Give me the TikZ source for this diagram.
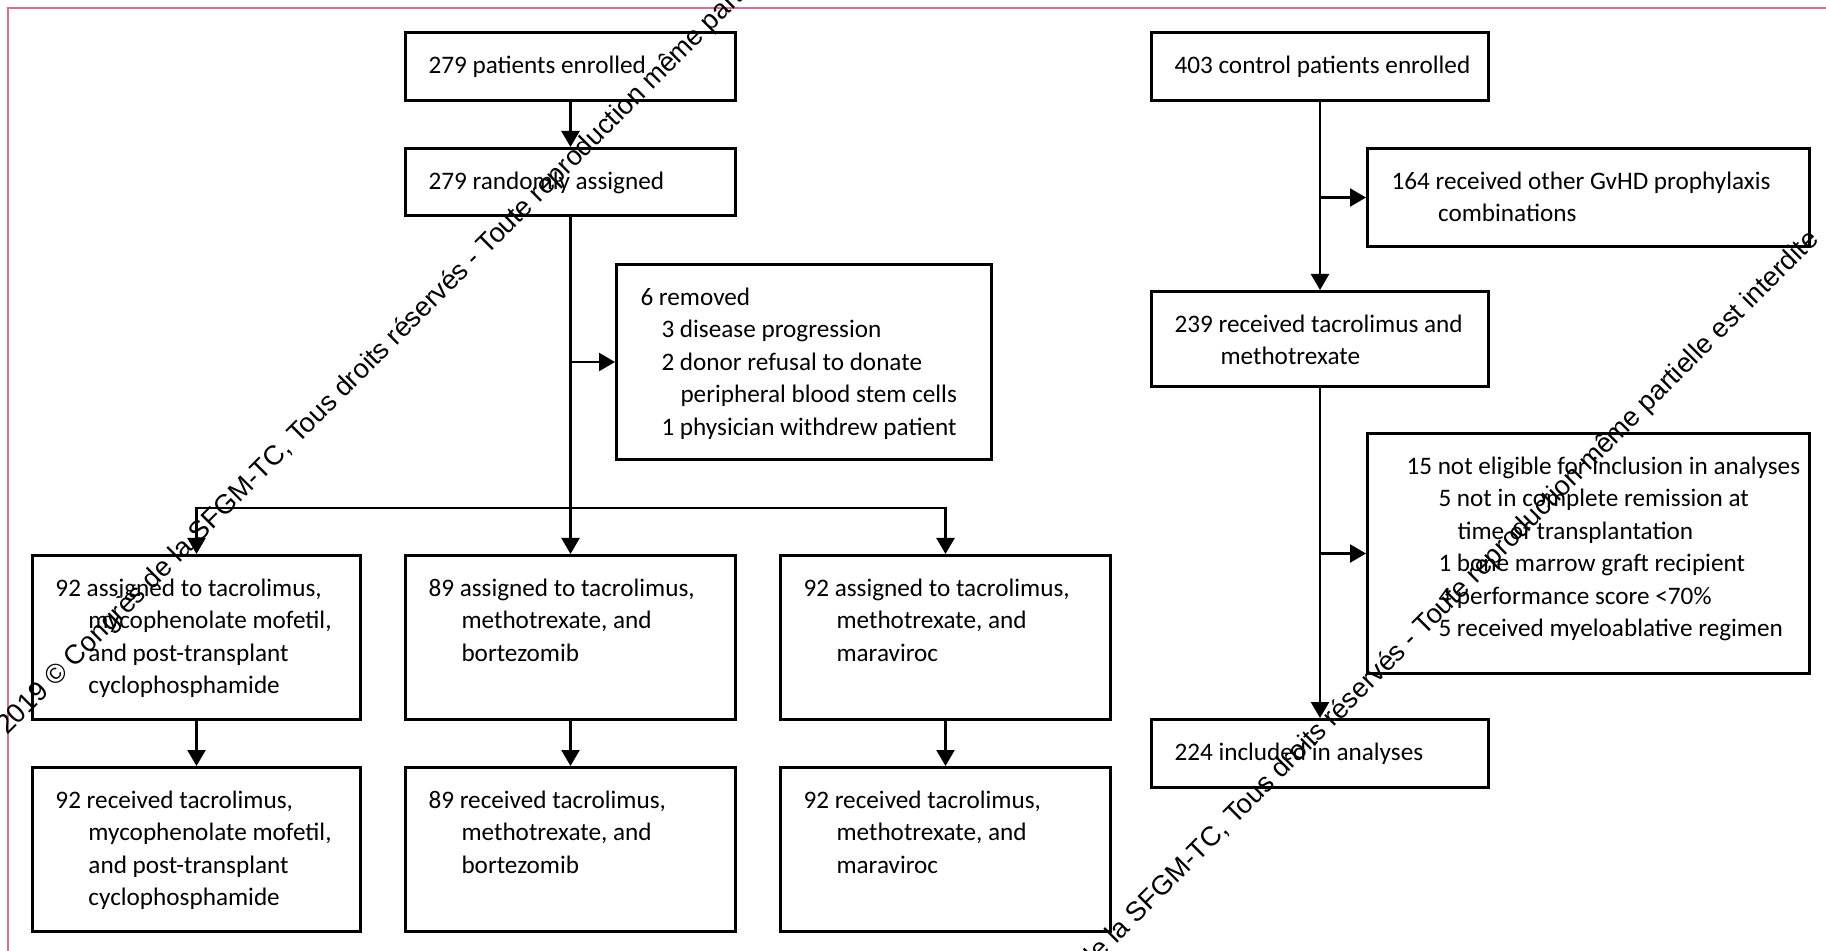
\documentclass[tikz,border=0pt]{standalone}
\usepackage{fontspec}
\setmainfont{Carlito}
\newfontfamily\wmfont{Liberation Sans}
\usetikzlibrary{arrows.meta}
\definecolor{framepink}{RGB}{218,112,142}
% box text: [inset]{width}{height}{lines}
\newcommand{\flowtext}[4][11.5pt]{\parbox[t][#3][t]{#2}{\raggedright\leftskip=#1\rule{0pt}{20.5pt}#4}}

\begin{document}
\begin{tikzpicture}[x=0.5pt,y=0.5pt,yscale=-1,
  flowbox/.style={draw, line width=1.5pt, anchor=north west, inner sep=0pt, font=\fontsize{12.6}{16.2}\selectfont},
  flowline/.style={line width=1.2pt, -{Triangle[width=9pt,length=8pt]}},
  wmark/.style={rotate=45, anchor=base west, inner sep=0pt, font=\wmfont\fontsize{13.6}{16}\selectfont}]
\useasboundingbox (0,0) rectangle (1826,951);

%Frame
\draw [framepink, line width=0.7pt] (8,951) -- (8,8) -- (1826,8);

% Trial arm
\node[flowbox] (enrolled) at (404,31) {\flowtext{165pt}{34pt}{279 patients enrolled}};
\node[flowbox] (randomised) at (404,147) {\flowtext{165pt}{33.5pt}{279 randomly assigned}};
\node[flowbox] (removed) at (615,263) {\flowtext[12pt]{187.5pt}{97.5pt}{6 removed\\
\hspace*{10.5pt}3 disease progression\\
\hspace*{10.5pt}2 donor refusal to donate\\
\hspace*{20pt}peripheral blood stem cells\\
\hspace*{10.5pt}1 physician withdrew patient}};

% Assigned
\node[flowbox] (armA) at (31,554) {\flowtext{164pt}{82pt}{92 assigned to tacrolimus,\\
\hspace*{16.5pt}mycophenolate mofetil,\\
\hspace*{16.5pt}and post-transplant\\
\hspace*{16.5pt}cyclophosphamide}};
\node[flowbox] (armB) at (404,554) {\flowtext{165pt}{82pt}{89 assigned to tacrolimus,\\
\hspace*{16.5pt}methotrexate, and\\
\hspace*{16.5pt}bortezomib}};
\node[flowbox] (armC) at (779,554) {\flowtext{165pt}{82pt}{92 assigned to tacrolimus,\\
\hspace*{16.5pt}methotrexate, and\\
\hspace*{16.5pt}maraviroc}};

% Received
\node[flowbox] (recvA) at (31,766) {\flowtext{164pt}{82pt}{92 received tacrolimus,\\
\hspace*{16.5pt}mycophenolate mofetil,\\
\hspace*{16.5pt}and post-transplant\\
\hspace*{16.5pt}cyclophosphamide}};
\node[flowbox] (recvB) at (404,766) {\flowtext{165pt}{82pt}{89 received tacrolimus,\\
\hspace*{16.5pt}methotrexate, and\\
\hspace*{16.5pt}bortezomib}};
\node[flowbox] (recvC) at (779,766) {\flowtext{165pt}{82pt}{92 received tacrolimus,\\
\hspace*{16.5pt}methotrexate, and\\
\hspace*{16.5pt}maraviroc}};

% Control cohort
\node[flowbox] (control) at (1150,31) {\flowtext{168.5pt}{34pt}{403 control patients enrolled}};
\node[flowbox] (otherproph) at (1366,147) {\flowtext[12pt]{221pt}{49pt}{164 received other GvHD prophylaxis\\
\hspace*{23.3pt}combinations}};
\node[flowbox] (tacmtx) at (1150,290) {\flowtext{168.5pt}{47.5pt}{239 received tacrolimus and\\
\hspace*{23pt}methotrexate}};
\node[flowbox] (noteligible) at (1366,432) {\flowtext[19.5pt]{221pt}{120pt}{15 not eligible for inclusion in analyses\\
\hspace*{16pt}5 not in complete remission at\\
\hspace*{25.5pt}time of transplantation\\
\hspace*{16pt}1 bone marrow graft recipient\\
\hspace*{16pt}4 performance score <70\%\\
\hspace*{16pt}5 received myeloablative regimen}};
\node[flowbox] (included) at (1150,718) {\flowtext{168.5pt}{34pt}{224 included in analyses}};

% Connectors
\coordinate (split) at (569,508);
\draw[flowline] (enrolled) -- (randomised);
\draw[flowline] (randomised) -- (armB);
\draw[flowline] (randomised.south |- removed) -- (removed);
\draw[flowline] (split) -| (armA);
\draw[flowline] (split) -| (armC);
\draw[flowline] (armA) -- (recvA);
\draw[flowline] (armB) -- (recvB);
\draw[flowline] (armC) -- (recvC);
\draw[flowline] (control) -- (tacmtx);
\draw[flowline] (control.south |- otherproph) -- (otherproph);
\draw[flowline] (tacmtx) -- (included);
\draw[flowline] (tacmtx.south |- noteligible) -- (noteligible);

% Watermark
\node[wmark] (wmleft) at (7,736) {2019 © Congrès de la SFGM-TC, Tous droits réservés - Toute reproduction même partielle est interdite};
\node[wmark] (wmright) at (944,1117) {2019 © Congrès de la SFGM-TC, Tous droits réservés - Toute reproduction même partielle est interdite};

\end{tikzpicture}
\end{document}
